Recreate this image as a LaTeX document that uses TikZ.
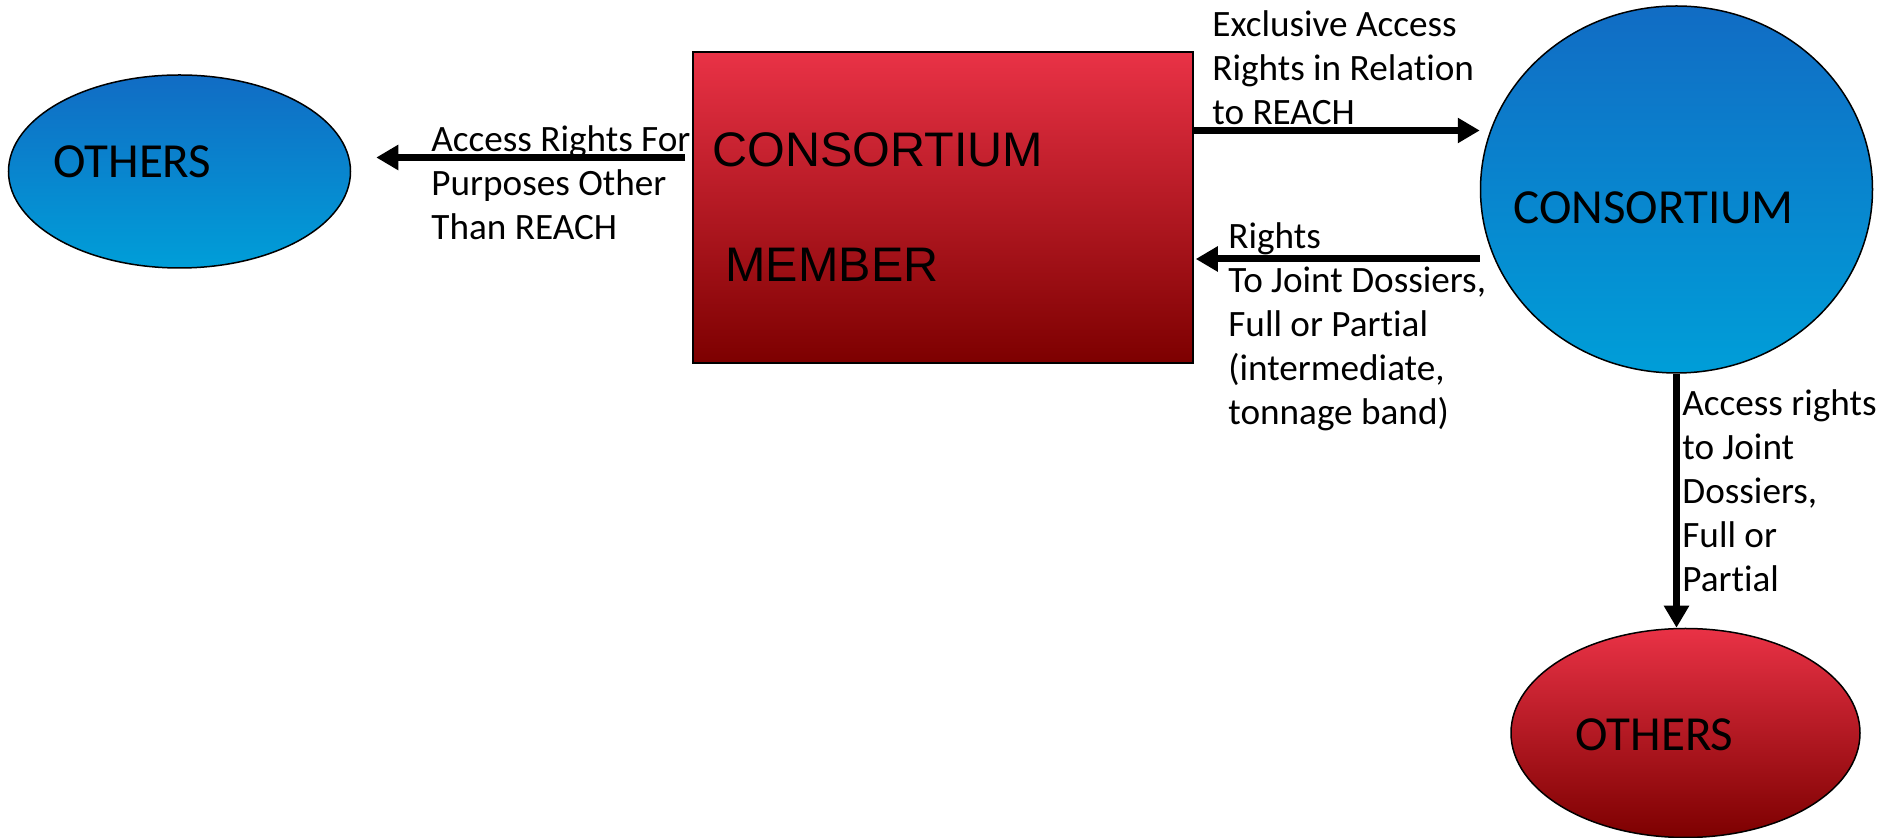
\documentclass[tikz,border=0pt]{standalone}
\usepackage{fontspec}
\setmainfont{Carlito}
\newfontfamily\boxfont{Liberation Sans}
\usetikzlibrary{shapes.geometric,arrows.meta,positioning}

\definecolor{lightred}{RGB}{233,50,70}
\definecolor{darkred}{RGB}{125,0,0}
\definecolor{topblue}{RGB}{17,108,196}
\definecolor{lowblue}{RGB}{0,158,216}

% keeps t and i apart (no ti ligature)
\newcommand{\noti}{t\kern0pt i}

\tikzset{
	redfill/.style={draw, line width=0.75pt, top color=lightred, bottom color=darkred},
	bluefill/.style={draw, line width=0.75pt, top color=topblue, bottom color=lowblue},
	oval/.style={ellipse, inner sep=0pt},
	arr/.style={line width=3.5pt, -{Triangle[length=11pt,width=12pt]}},
	lbl/.style={align=left, inner sep=0pt, anchor=north west, font=\fontsize{18.6}{22}\selectfont},
	big/.style={inner sep=0pt, font=\fontsize{24.5}{28}\selectfont},
	boxtext/.style={inner sep=0pt, font=\boxfont\fontsize{24.25}{28}\selectfont}
}

\begin{document}
\begin{tikzpicture}[x=0.5pt,y=-0.5pt]
	\useasboundingbox (0,0) rectangle (1881,838);

	\node[redfill, minimum width=250pt, minimum height=155.5pt, inner sep=0pt] (member) at (943,207.5) {};
	\node[bluefill, oval, minimum width=171pt, minimum height=96.5pt] (others) [left=170.5pt of member, yshift=18pt] {};
	\node[bluefill, oval, minimum width=196pt, minimum height=183.5pt] (cons) [right=143pt of member, yshift=9pt] {};
	\node[redfill, oval, minimum width=174.5pt, minimum height=104.5pt] (others2) [below=127pt of cons, xshift=4.5pt] {};

	% texts in the shapes
	\node[boxtext] (membertop) at ([shift={(-32.5pt,28.75pt)}]member.center) {CONSORTIUM};
	\node[boxtext] (memberbot) at ([shift={(-55.5pt,-28.75pt)}]member.center) {MEMBER};
	\node[big] (otherstext) at ([shift={(-23.5pt,5pt)}]others.center) {OTHERS};
	\node[big] (constext) at ([shift={(-11.5pt,-9.25pt)}]cons.center) {CONSORTIUM};
	\node[big] (others2text) at ([shift={(-15.5pt,-0.75pt)}]others2.center) {OTHERS};

	\path[arr]
	([shift={(-3.5pt,25pt)}]member.west) edge ([shift={(12.5pt,7pt)}]others.east)
	([yshift=38.5pt]member.east) edge ([yshift=29.5pt]cons.west)
	([yshift=-34.75pt]cons.west) edge ([shift={(1pt,-25.75pt)}]member.east)
	(cons.south) edge (cons.south |- others2.north);

	% labels
	\node[lbl] (lblothers) at (431,125.5) {Access Rights For\\Purposes Other\\Than REACH};
	\node[lbl] (lblexcl) at (1212,10.5) {Exclusive Access\\Rights in Rela\noti on\\to REACH};
	\node[lbl] (lbljoint) at (1228,222.5) {Rights\\To Joint Dossiers,\\Full or Par\noti al\\(intermediate,\\tonnage band)};
	\node[lbl] (lbldown) at (1682,389) {Access rights\\to Joint\\Dossiers,\\Full or\\Par\noti al};
\end{tikzpicture}
\end{document}
